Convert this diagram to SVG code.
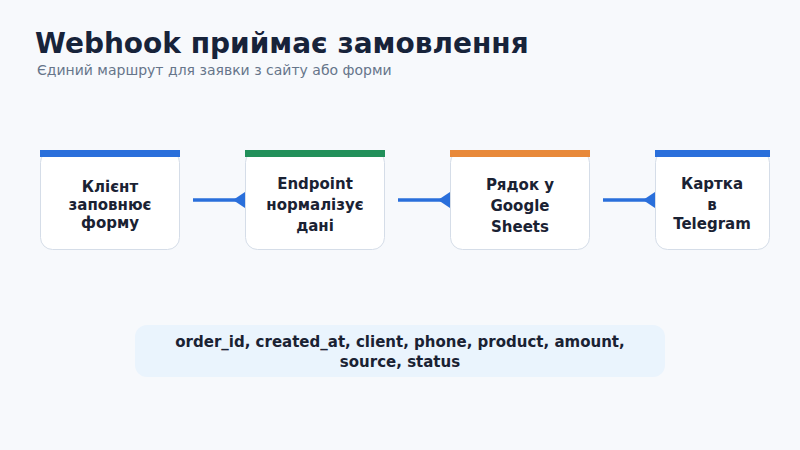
<svg xmlns="http://www.w3.org/2000/svg" width="800" height="450" viewBox="0 0 800 450">
<style>
.box{fill:#fff;stroke:#d5dde8;stroke-width:1}
.t{font-family:"DejaVu Sans",sans-serif;font-weight:bold;font-size:15px;fill:#1a2233;text-anchor:middle}
.c{stroke:#2a6fdb;stroke-width:3.5;fill:none}
.h{fill:#2a6fdb}
</style>
<rect width="800" height="450" fill="#f7f9fc"/>
<text x="35" y="53" font-family="DejaVu Sans,sans-serif" font-weight="bold" font-size="28" fill="#17233a">Webhook приймає замовлення</text>
<text x="37" y="75" font-family="DejaVu Sans,sans-serif" font-size="14" fill="#66758a">Єдиний маршрут для заявки з сайту або форми</text>
<g id="connectors">
<line class="c" x1="193" y1="200" x2="236" y2="200"/><polygon class="h" points="245,192 245,208 233,200"/>
<line class="c" x1="398" y1="200" x2="441" y2="200"/><polygon class="h" points="450,192 450,208 438,200"/>
<line class="c" x1="603" y1="200" x2="646" y2="200"/><polygon class="h" points="655,192 655,208 643,200"/>
</g>
<g id="n1"><rect class="box" x="40.5" y="150.5" width="139" height="99" rx="12"/><rect x="40" y="150" width="140" height="7" fill="#2a6fdb"/>
<text class="t" x="110" y="192">Клієнт</text><text class="t" x="110" y="210">заповнює</text><text class="t" x="110" y="228">форму</text></g>
<g id="n2"><rect class="box" x="245.5" y="150.5" width="139" height="99" rx="12"/><rect x="245" y="150" width="140" height="7" fill="#22905a"/>
<text class="t" x="315" y="189">Endpoint</text><text class="t" x="315" y="210">нормалізує</text><text class="t" x="315" y="231">дані</text></g>
<g id="n3"><rect class="box" x="450.5" y="150.5" width="139" height="99" rx="12"/><rect x="450" y="150" width="140" height="7" fill="#e8893a"/>
<text class="t" x="520" y="190">Рядок у</text><text class="t" x="520" y="211">Google</text><text class="t" x="520" y="232">Sheets</text></g>
<g id="n4"><rect class="box" x="655.5" y="150.5" width="114" height="99" rx="12"/><rect x="655" y="150" width="115" height="7" fill="#2a6fdb"/>
<text class="t" x="712" y="189">Картка</text><text class="t" x="712" y="210">в</text><text class="t" x="712" y="229">Telegram</text></g>
<g id="fields"><rect x="135" y="325" width="530" height="52" rx="12" fill="#eaf4fd"/>
<text class="t" x="400" y="347">order_id, created_at, client, phone, product, amount,</text>
<text class="t" x="400" y="367">source, status</text></g>
</svg>
